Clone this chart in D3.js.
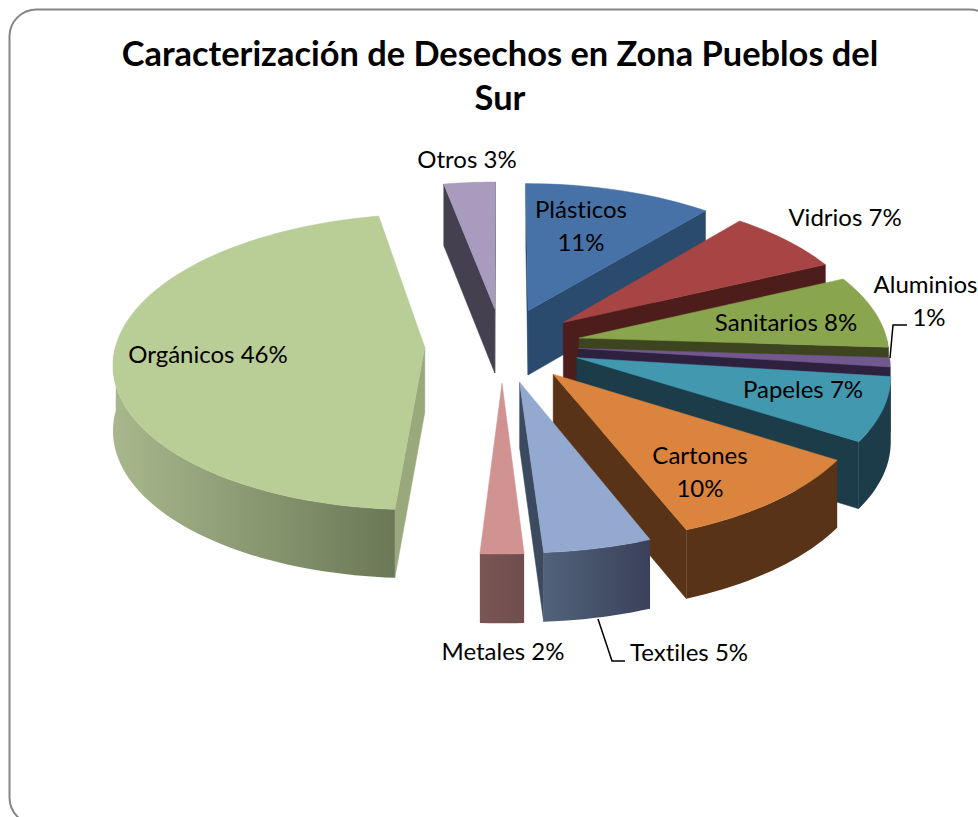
<!DOCTYPE html>
<html><head><meta charset="utf-8">
<script src="https://d3js.org/d3.v7.min.js"></script>
<style>html,body{margin:0;padding:0;background:#fff;overflow:hidden}svg{display:block}text{font-family:Lato,"Open Sans",sans-serif;fill:#000;font-variant-ligatures:none}</style>
</head><body>
<script>
const titleLines = ["Caracterización de Desechos en Zona Pueblos del", "Sur"];
const categories = ["Plásticos","Vidrios","Sanitarios","Aluminios","Papeles","Cartones","Textiles","Metales","Orgánicos","Otros"];
const values = [11,7,8,1,7,10,5,2,46,3];
const explodes = [0.255,0.255,0.255,0.247,0.255,0.255,0.255,0.255,0.25,0.255];
const topColors  = ["#4672a8","#a64543","#89a54e","#71588f","#4198af","#db843d","#93a9cf","#d19392","#b9cd96","#a99bbd"];
const wallColors = ["#2a4a6e","#4d1d1c","#3c4520","#2e213f","#1b3c48","#593317","#3c4a60","#6e4f4e","#9aa97b","#45404f"];
const rimLight   = ["#2a4a6e","#4d1d1c","#3c4520","#2e213f","#1b3c48","#593317","#51627a","#7a5553","#a8b88c","#45404f"];
const rimDark    = ["#2a4a6e","#4d1d1c","#3c4520","#2e213f","#1b3c48","#593317","#3b415a","#6e4f4e","#6b7857","#45404f"];

const labelLines = [["Plásticos","11%"],["Vidrios 7%"],["Sanitarios 8%"],["Aluminios","1%"],["Papeles 7%"],["Cartones","10%"],["Textiles 5%"],["Metales 2%"],["Orgánicos 46%"],["Otros 3%"]];
const labelX = [581,845,786,925.5,803,700,689,503,208,467];
const labelY = [218,226,331,293,398,464,661,660,363,168];
const secondLineShift = [0,0,0,3.5,0,0,0,0,0,0];

const W=978,H=817, persp=0.098;
const sx=d3.scaleLinear().domain([0,1]).range([502,502+309]);
const sy=d3.scaleLinear().domain([0,1]).range([345,345+146]);
const f=b=>1/(1-persp*b);
const proj=(a,b)=>[sx(a*f(b)), sy(b*f(b))];
const depth=b=>65*Math.sqrt(f(b));

const svg=d3.select("body").append("svg").attr("width",W).attr("height",H);
svg.append("rect").attr("x",9.5).attr("y",9.5).attr("width",987).attr("height",815).attr("rx",27)
   .attr("fill","#fff").attr("stroke","#868686").attr("stroke-width",2);
const defs=svg.append("defs");

const pie=d3.pie().sort(null).value(d=>d)(values);
const line=d3.line();
const slices=pie.map((p,i)=>{
  const mid=(p.startAngle+p.endAngle)/2, e=explodes[i];
  const ox=e*Math.sin(mid), oy=-e*Math.cos(mid);
  const n=Math.max(4,Math.ceil((p.endAngle-p.startAngle)/0.03));
  const arc=d3.range(n+1).map(k=>{
    const t=p.startAngle+(p.endAngle-p.startAngle)*k/n;
    return [ox+Math.sin(t),oy-Math.cos(t)];
  });
  return {i,mid,ox,oy,arc};
}).sort((a,b)=>Math.cos(b.mid)-Math.cos(a.mid));

const down=(pt)=>{const p=proj(pt[0],pt[1]);return [p[0],p[1]+depth(pt[1])];};
const up=(pt)=>proj(pt[0],pt[1]);
const g=svg.append("g");
slices.forEach(s=>{
  const apex=[s.ox,s.oy], first=s.arc[0], last=s.arc[s.arc.length-1];
  const sg=g.append("g").attr("class","slice");
  const wall=(p,q)=>{
    if(up(q)[0]-up(p)[0]<0){
      sg.append("path").attr("d",line([up(p),up(q),down(q),down(p)])+"Z")
        .attr("fill",wallColors[s.i]).attr("stroke",wallColors[s.i]).attr("stroke-width",0.5);
    }
  };
  wall(apex,first); wall(last,apex);
  const vis=s.arc.filter(q=>q[1]-s.oy>=-0.02 );
  if(vis.length>1){
    const xs=vis.map(q=>up(q)[0]);
    const id="rim"+s.i;
    const gr=defs.append("linearGradient").attr("id",id).attr("gradientUnits","userSpaceOnUse")
      .attr("x1",d3.min(xs)).attr("x2",d3.max(xs)).attr("y1",0).attr("y2",0);
    gr.append("stop").attr("offset",0).attr("stop-color",rimLight[s.i]);
    gr.append("stop").attr("offset",1).attr("stop-color",rimDark[s.i]);
    sg.append("path").attr("d",line(vis.map(up).concat(vis.slice().reverse().map(down)))+"Z")
      .attr("fill",`url(#${id})`);
  }
  sg.append("path").attr("d",line([up(apex)].concat(s.arc.map(up)))+"Z")
    .attr("fill",topColors[s.i]).attr("stroke",topColors[s.i]).attr("stroke-width",0.5);
});

const leaders=[[[890,358],[893,325],[907,325]],[[598,619],[612,661],[625,661]]];
leaders.forEach(l=>svg.append("path").attr("d",d3.line()(l)).attr("fill","none").attr("stroke","#000").attr("stroke-width",1.5));

const fs=24, lh=33;
categories.forEach((c,i)=>{
  const t=svg.append("text").attr("font-size",fs).attr("text-anchor","middle");
  labelLines[i].forEach((s,k)=>{
    t.append("tspan").attr("x",labelX[i]+(k?secondLineShift[i]:0)).attr("y",labelY[i]+k*lh).text(s);
  });
});
titleLines.forEach((s,k)=>svg.append("text").attr("x",500).attr("y",66+k*44).attr("text-anchor","middle")
  .attr("font-size",34.4).attr("font-weight",700).text(s));
</script>
</body></html>
